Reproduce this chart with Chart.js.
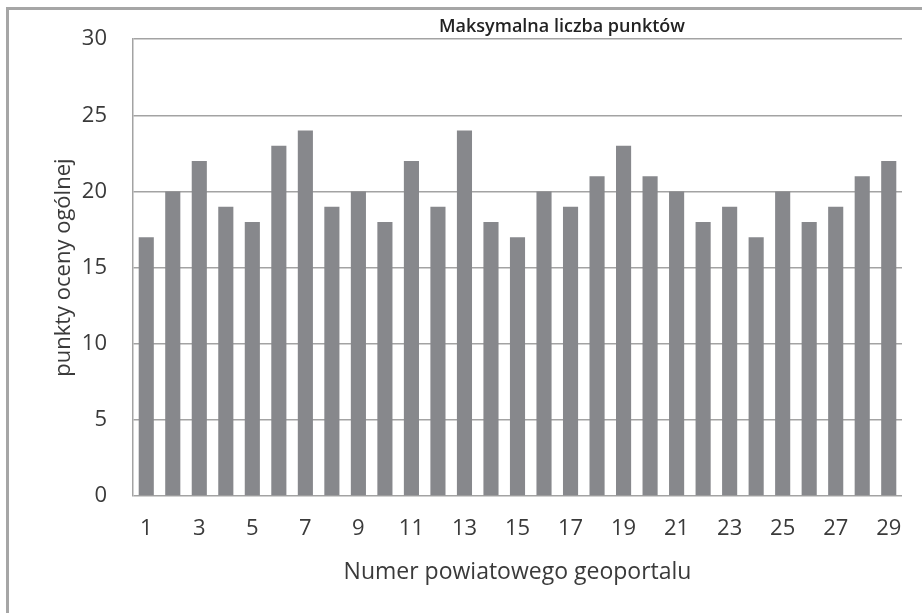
<!DOCTYPE html>
<html lang="en">
<head>
    <meta charset="UTF-8">
    <title>Maksymalna liczba punktów</title>
    <style>
        body {
            margin: 0;
            padding: 0;
            background-color: #ffffff;
        }
        #wrap {
            position: relative;
            width: 922px;
            height: 613px;
            overflow: hidden;
        }
        #frame {
            position: absolute;
            left: 6px;
            top: 7px;
            width: 940px;
            height: 640px;
            border-left: 3px solid #a6a6a6;
            border-top: 3px solid #a6a6a6;
        }
        canvas {
            position: absolute;
            left: 0;
            top: 0;
        }
    </style>
</head>
<body>
    <div id="wrap">
        <div id="frame"></div>
        <canvas id="myChart" width="922" height="613"></canvas>
    </div>
    <script src="https://cdn.jsdelivr.net/npm/chart.js"></script>
    <script>
        // numery geoportali 1..29
        const categories = ['1', '2', '3', '4', '5', '6', '7', '8', '9', '10',
            '11', '12', '13', '14', '15', '16', '17', '18', '19', '20',
            '21', '22', '23', '24', '25', '26', '27', '28', '29'];
        const points = [17, 20, 22, 19, 18, 23, 24, 19, 20, 18,
            22, 19, 24, 18, 17, 20, 19, 21, 23, 21,
            20, 18, 19, 17, 20, 18, 19, 21, 22];
        const seriesName = 'Maksymalna liczba punktów';
        const yTicks = [0, 5, 10, 15, 20, 25, 30];

        const textColor = '#3a3a3a';
        const gridColor = '#a3a3a3';
        const font = "'Open Sans', sans-serif";

        // tytul serii nad wykresem (jak w oryginale, przesuniety w prawo)
        const seriesTitle = {
            id: 'seriesTitle',
            afterDraw(chart) {
                const ctx = chart.ctx;
                ctx.save();
                ctx.font = "600 18px " + font;
                ctx.fillStyle = '#222222';
                ctx.textAlign = 'center';
                ctx.textBaseline = 'middle';
                ctx.fillText(seriesName, 562, 27);
                ctx.restore();
            }
        };

        const ctx = document.getElementById('myChart').getContext('2d');
        new Chart(ctx, {
            type: 'bar',
            data: {
                labels: categories,
                datasets: [{
                    label: seriesName,
                    data: points,
                    backgroundColor: '#87888c',
                    borderWidth: 0,
                    barPercentage: 0.57,
                    categoryPercentage: 1.0
                }]
            },
            plugins: [seriesTitle],
            options: {
                responsive: false,
                animation: false,
                layout: {
                    padding: { top: 39, right: 20, left: 0, bottom: 0 }
                },
                plugins: {
                    legend: { display: false },
                    tooltip: { enabled: false }
                },
                scales: {
                    x: {
                        grid: { display: false, drawTicks: false },
                        border: { display: false },
                        ticks: {
                            autoSkip: false,
                            maxRotation: 0,
                            padding: 20,
                            color: textColor,
                            font: { family: font, size: 22 },
                            callback: function (value, index) {
                                return index % 2 === 0 ? categories[index] : '';
                            }
                        },
                        title: {
                            display: true,
                            text: 'Numer powiatowego geoportalu',
                            color: textColor,
                            font: { family: font, size: 23 },
                            padding: { top: 0, bottom: 27 }
                        },
                        afterFit: function (scale) {
                            scale.height = 117;
                        }
                    },
                    y: {
                        min: 0,
                        max: 30,
                        afterBuildTicks: function (scale) {
                            scale.ticks = yTicks.map(v => ({ value: v }));
                        },
                        grid: {
                            color: gridColor,
                            lineWidth: 1.5,
                            drawTicks: false
                        },
                        border: { display: true, color: gridColor, width: 1.5 },
                        ticks: {
                            padding: 26,
                            color: textColor,
                            font: { family: font, size: 22 }
                        },
                        title: {
                            display: true,
                            text: 'punkty oceny ogólnej',
                            color: textColor,
                            font: { family: font, size: 22 },
                            padding: { top: 51, bottom: 0 }
                        },
                        afterFit: function (scale) {
                            scale.width = 133;
                        }
                    }
                }
            }
        });
    </script>
</body>
</html>
